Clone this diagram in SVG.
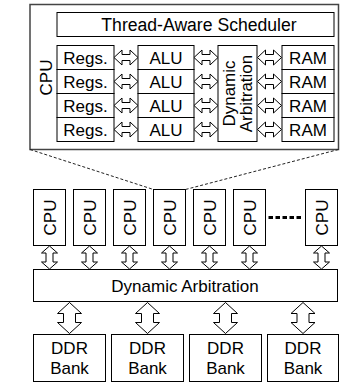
<svg xmlns="http://www.w3.org/2000/svg" width="344" height="383" viewBox="0 0 344 383">
<style>
.box{fill:#fff;stroke:#000;stroke-width:1}
.outer{fill:#fff;stroke:#444;stroke-width:1.5}
.arr{fill:#fff;stroke:#000;stroke-width:1}
.dash{fill:none;stroke:#222;stroke-width:1;stroke-dasharray:3 2}
text{font-family:"Liberation Sans",Arial,sans-serif;font-size:17px;fill:#000;text-anchor:middle}
</style>
<defs>
<path id="ha" d="M-12,0 L-4,-7.5 L-4,-3 L4,-3 L4,-7.5 L12,0 L4,7.5 L4,3 L-4,3 L-4,7.5 Z"/>
<path id="sv" d="M0,-11.5 L8,-4.5 L3.5,-4.5 L3.5,4.5 L8,4.5 L0,11.5 L-8,4.5 L-3.5,4.5 L-3.5,-4.5 L-8,-4.5 Z"/>
<path id="bv" d="M0,-15.5 L12,-4.5 L6,-4.5 L6,4.5 L12,4.5 L0,15.5 L-12,4.5 L-6,4.5 L-6,-4.5 L-12,-4.5 Z"/>
</defs>

<g id="cpu-detail">
<rect class="outer" x="30" y="4.5" width="308.5" height="145"/>
<text transform="translate(52,77.5) rotate(-90)">CPU</text>
</g>
<g id="scheduler">
<rect class="box" x="57" y="12.5" width="277" height="24"/>
<text x="199" y="30.5" style="font-size:17.6px">Thread-Aware Scheduler</text>
</g>
<g id="regs">
<rect class="box" x="57" y="45.5" width="57" height="24"/><text x="85.5" y="63.8">Regs.</text>
<rect class="box" x="57" y="69.5" width="57" height="24"/><text x="85.5" y="87.8">Regs.</text>
<rect class="box" x="57" y="93.5" width="57" height="24"/><text x="85.5" y="111.8">Regs.</text>
<rect class="box" x="57" y="117.5" width="57" height="24"/><text x="85.5" y="135.8">Regs.</text>
</g>
<g id="alus">
<rect class="box" x="138" y="45.5" width="56" height="24"/><text x="166" y="63.8">ALU</text>
<rect class="box" x="138" y="69.5" width="56" height="24"/><text x="166" y="87.8">ALU</text>
<rect class="box" x="138" y="93.5" width="56" height="24"/><text x="166" y="111.8">ALU</text>
<rect class="box" x="138" y="117.5" width="56" height="24"/><text x="166" y="135.8">ALU</text>
</g>
<g id="dyn-arb-inner">
<rect class="box" x="218" y="45.5" width="39" height="96"/>
<text transform="translate(234.5,93.5) rotate(-90)">Dynamic</text>
<text transform="translate(252,93.5) rotate(-90)">Arbitration</text>
</g>
<g id="rams">
<rect class="box" x="282" y="45.5" width="52" height="24"/><text x="308" y="63.8">RAM</text>
<rect class="box" x="282" y="69.5" width="52" height="24"/><text x="308" y="87.8">RAM</text>
<rect class="box" x="282" y="93.5" width="52" height="24"/><text x="308" y="111.8">RAM</text>
<rect class="box" x="282" y="117.5" width="52" height="24"/><text x="308" y="135.8">RAM</text>
</g>

<g id="cpus">
<rect class="box" x="33.5" y="189.5" width="32" height="56"/><text transform="translate(55.5,217.5) rotate(-90)">CPU</text>
<rect class="box" x="73.5" y="189.5" width="32" height="56"/><text transform="translate(95.5,217.5) rotate(-90)">CPU</text>
<rect class="box" x="113.5" y="189.5" width="32" height="56"/><text transform="translate(135.5,217.5) rotate(-90)">CPU</text>
<rect class="box" x="153.5" y="189.5" width="32" height="56"/><text transform="translate(175.5,217.5) rotate(-90)">CPU</text>
<rect class="box" x="193.5" y="189.5" width="32" height="56"/><text transform="translate(215.5,217.5) rotate(-90)">CPU</text>
<rect class="box" x="233.5" y="189.5" width="32" height="56"/><text transform="translate(255.5,217.5) rotate(-90)">CPU</text>
<rect class="box" x="305.5" y="189.5" width="32" height="56"/><text transform="translate(327.5,217.5) rotate(-90)">CPU</text>
<line x1="268.5" y1="217.5" x2="302" y2="217.5" stroke="#000" stroke-width="3" stroke-dasharray="4.5 2.5"/>
</g>
<g id="dyn-arb">
<rect class="box" x="33.5" y="269.5" width="304" height="32"/>
<text x="185" y="291.5">Dynamic Arbitration</text>
</g>
<g id="ddr">
<rect class="box" x="33.5" y="334.5" width="72" height="47"/><text x="69.5" y="354">DDR</text><text x="69.5" y="374">Bank</text>
<rect class="box" x="111.5" y="334.5" width="72" height="47"/><text x="147.5" y="354">DDR</text><text x="147.5" y="374">Bank</text>
<rect class="box" x="189.5" y="334.5" width="72" height="47"/><text x="225.5" y="354">DDR</text><text x="225.5" y="374">Bank</text>
<rect class="box" x="267.5" y="334.5" width="71" height="47"/><text x="303" y="354">DDR</text><text x="303" y="374">Bank</text>
</g>

<g id="connectors">
<line class="dash" x1="30" y1="149.5" x2="153.5" y2="189.5"/>
<line class="dash" x1="338.5" y1="149.5" x2="185.5" y2="189.5"/>
<use href="#ha" class="arr" transform="translate(126,57.5)"/>
<use href="#ha" class="arr" transform="translate(126,81.5)"/>
<use href="#ha" class="arr" transform="translate(126,105.5)"/>
<use href="#ha" class="arr" transform="translate(126,129.5)"/>
<use href="#ha" class="arr" transform="translate(206,57.5)"/>
<use href="#ha" class="arr" transform="translate(206,81.5)"/>
<use href="#ha" class="arr" transform="translate(206,105.5)"/>
<use href="#ha" class="arr" transform="translate(206,129.5)"/>
<use href="#ha" class="arr" transform="translate(269.5,57.5)"/>
<use href="#ha" class="arr" transform="translate(269.5,81.5)"/>
<use href="#ha" class="arr" transform="translate(269.5,105.5)"/>
<use href="#ha" class="arr" transform="translate(269.5,129.5)"/>
<use href="#sv" class="arr" transform="translate(49.5,257.5)"/>
<use href="#sv" class="arr" transform="translate(89.5,257.5)"/>
<use href="#sv" class="arr" transform="translate(129.5,257.5)"/>
<use href="#sv" class="arr" transform="translate(169.5,257.5)"/>
<use href="#sv" class="arr" transform="translate(209.5,257.5)"/>
<use href="#sv" class="arr" transform="translate(249.5,257.5)"/>
<use href="#sv" class="arr" transform="translate(321.5,257.5)"/>
<use href="#bv" class="arr" transform="translate(69.5,318)"/>
<use href="#bv" class="arr" transform="translate(147.5,318)"/>
<use href="#bv" class="arr" transform="translate(225.5,318)"/>
<use href="#bv" class="arr" transform="translate(303,318)"/>
</g>
</svg>
